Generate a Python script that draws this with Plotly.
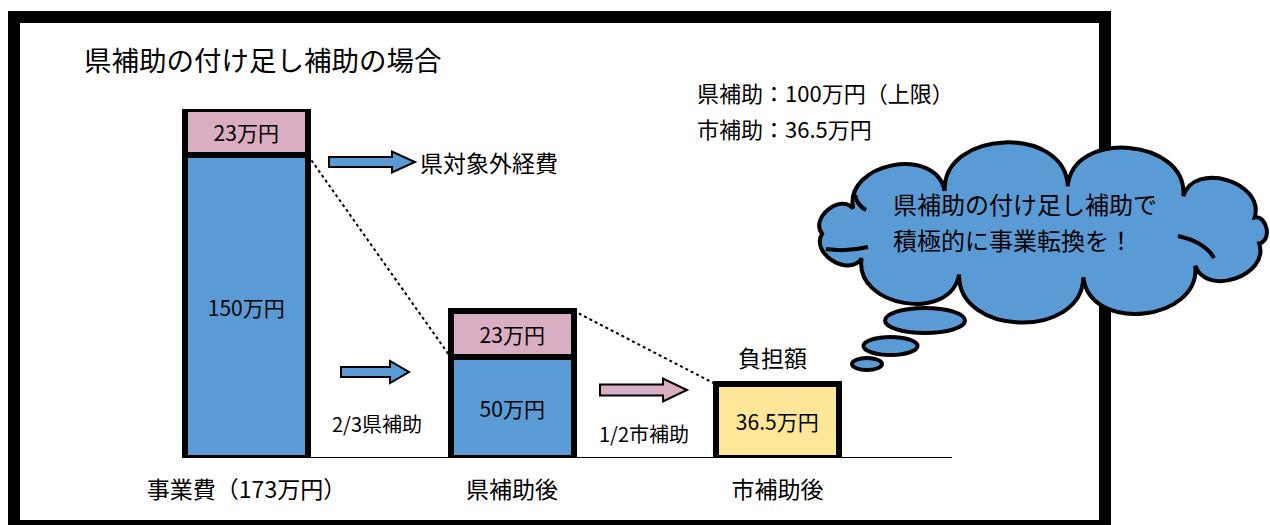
import numpy as np
import plotly.graph_objects as go

W, H = 1270, 525

# ---------------- data ----------------
categories = ["事業費", "県補助後", "市補助後"]
covered = [150, 50, None]        # 県補助の対象となる経費 / 県補助後の残り
uncovered = [23, 23, None]       # 県対象外経費
burden = [None, None, 36.5]      # 市補助後の負担額
pref_subsidy = 100               # 県補助（上限）
city_subsidy = 36.5              # 市補助

total = covered[0] + uncovered[0]
tick_text = [f"{categories[0]}（{total:g}万円）", categories[1], categories[2]]

BLUE = "#5B9BD5"
PINK = "#D9ADC2"
YELLOW = "#FFE699"
FONT = "Noto Sans CJK JP"


def px(x):
    return x / W


def py(y):
    return 1 - y / H


fig = go.Figure()
bw = 0.463
for vals, col in [(covered, BLUE), (uncovered, PINK), (burden, YELLOW)]:
    fig.add_trace(go.Bar(
        x=categories, y=vals, width=bw,
        marker=dict(color=col, line=dict(color="black", width=6)),
        text=[None if v is None else f"{v:g}万円" for v in vals],
        textposition="inside", insidetextanchor="middle", textangle=0,
        constraintext="none", cliponaxis=False,
        textfont=dict(family=FONT, size=21, color="black"),
        hoverinfo="skip", showlegend=False,
    ))

shapes = []
# outer frame
shapes.append(dict(type="rect", xref="paper", yref="paper",
                   x0=px(14), x1=px(1105), y0=py(17), y1=py(526),
                   line=dict(color="black", width=12), fillcolor="rgba(0,0,0,0)", layer="above"))
# baseline
shapes.append(dict(type="line", xref="paper", yref="y", x0=px(183), x1=px(952), y0=0, y1=0,
                   line=dict(color="black", width=2), layer="below"))
# dotted connectors
shapes.append(dict(type="line", xref="x", yref="y", x0=0 + bw / 2, y0=covered[0], x1=1 - bw / 2, y1=covered[1],
                   line=dict(color="black", width=2, dash="dot"), layer="below"))
shapes.append(dict(type="line", xref="x", yref="y", x0=1 + bw / 2, y0=covered[1] + uncovered[1],
                   x1=2 - bw / 2, y1=burden[2],
                   line=dict(color="black", width=2, dash="dot"), layer="below"))


def arrow_path(x0, x1, yc, hs, hh, xh):
    pts = [(x0, yc - hs), (xh, yc - hs), (xh, yc - hh), (x1, yc), (xh, yc + hh), (xh, yc + hs), (x0, yc + hs)]
    return "M" + " L".join(f"{px(a):.5f},{py(b):.5f}" for a, b in pts) + " Z"


for (x0, x1, yc, hs, hh, xh, col) in [(329, 415, 162, 5, 10.5, 392, BLUE),
                                      (341, 409, 372, 5, 11, 390, BLUE),
                                      (600, 687, 390, 5.5, 11.5, 663, PINK)]:
    shapes.append(dict(type="path", xref="paper", yref="paper", path=arrow_path(x0, x1, yc, hs, hh, xh),
                       fillcolor=col, line=dict(color="black", width=2), layer="above"))

# cloud
cx, cy, rx, ry, N = 1044, 232, 222, 46, 11
th = np.linspace(0, 2 * np.pi, N + 1) + 0.25
P = np.c_[cx + rx * np.cos(th), cy + ry * np.sin(th)]
path = f"M{px(P[0,0]):.5f},{py(P[0,1]):.5f}"
for i in range(N):
    a, b = P[i], P[i + 1]
    d = b - a
    c = np.hypot(*d)
    n = np.array([d[1], -d[0]]) / c
    mid = (a + b) / 2
    if np.dot(n, mid - np.array([cx, cy])) < 0:
        n = -n
    h = 0.5 * c
    c1, c2 = a + n * h, b + n * h
    path += (f" C{px(c1[0]):.5f},{py(c1[1]):.5f} {px(c2[0]):.5f},{py(c2[1]):.5f} "
             f"{px(b[0]):.5f},{py(b[1]):.5f}")
path += " Z"
shapes.append(dict(type="path", xref="paper", yref="paper", path=path,
                   fillcolor=BLUE, line=dict(color="black", width=4), layer="above"))


def qpath(pts):
    (x0, y0), (x1, y1), (x2, y2) = pts
    return f"M{px(x0):.5f},{py(y0):.5f} Q{px(x1):.5f},{py(y1):.5f} {px(x2):.5f},{py(y2):.5f}"


for pts in [[(826, 249), (847, 252), (868, 247)],
            [(1178, 236), (1205, 242), (1214, 258)],
            [(855, 195), (857, 205), (866, 210)]]:
    shapes.append(dict(type="path", xref="paper", yref="paper", path=qpath(pts),
                       fillcolor="rgba(0,0,0,0)", line=dict(color="black", width=4), layer="above"))

for (ex, ey, erx, ery) in [(925, 320.5, 40, 12.5), (890.5, 346, 27, 9), (867, 364, 15, 6)]:
    shapes.append(dict(type="circle", xref="paper", yref="paper",
                       x0=px(ex - erx), x1=px(ex + erx), y0=py(ey + ery), y1=py(ey - ery),
                       fillcolor=BLUE, line=dict(color="black", width=4), layer="above"))

annotations = []


def txt(s, x, y, size, anchor="left"):
    annotations.append(dict(text=s, x=px(x), y=py(y), xref="paper", yref="paper",
                            xanchor=anchor, yanchor="middle", showarrow=False,
                            font=dict(family=FONT, size=size, color="black")))


txt("県補助の付け足し補助の場合", 82, 59, 27.5)
txt("県対象外経費", 418, 162, 23)
txt("2/3県補助", 330, 423, 20)
txt("1/2市補助", 597, 433, 20)
txt("負担額", 772, 357, 23, "center")
txt(f"県補助：{pref_subsidy:g}万円（上限）", 695, 92, 22)
txt(f"市補助：{city_subsidy:g}万円", 695, 128, 22)
txt("県補助の付け足し補助で", 891, 203, 24)
txt("積極的に事業転換を！", 891, 240, 24)

fig.update_layout(
    width=W, height=H, margin=dict(l=0, r=0, t=0, b=0),
    paper_bgcolor="white", plot_bgcolor="rgba(0,0,0,0)",
    barmode="stack", bargap=0, showlegend=False,
    xaxis=dict(domain=[px(113.75), px(910.25)], range=[-0.5, 2.5], type="category",
               tickmode="array", tickvals=categories, ticktext=tick_text,
               ticks="outside", ticklen=11, tickcolor="rgba(0,0,0,0)",
               tickfont=dict(family=FONT, size=23, color="black"),
               showgrid=False, zeroline=False, showline=False, automargin=False, fixedrange=True),
    yaxis=dict(domain=[py(458), py(109)], range=[0, total], visible=False,
               showgrid=False, zeroline=False, automargin=False, fixedrange=True),
    shapes=shapes, annotations=annotations,
)

fig.write_html("out.html", config={"displayModeBar": False},
               post_script="document.body.style.margin='0';document.body.style.overflow='hidden';")
